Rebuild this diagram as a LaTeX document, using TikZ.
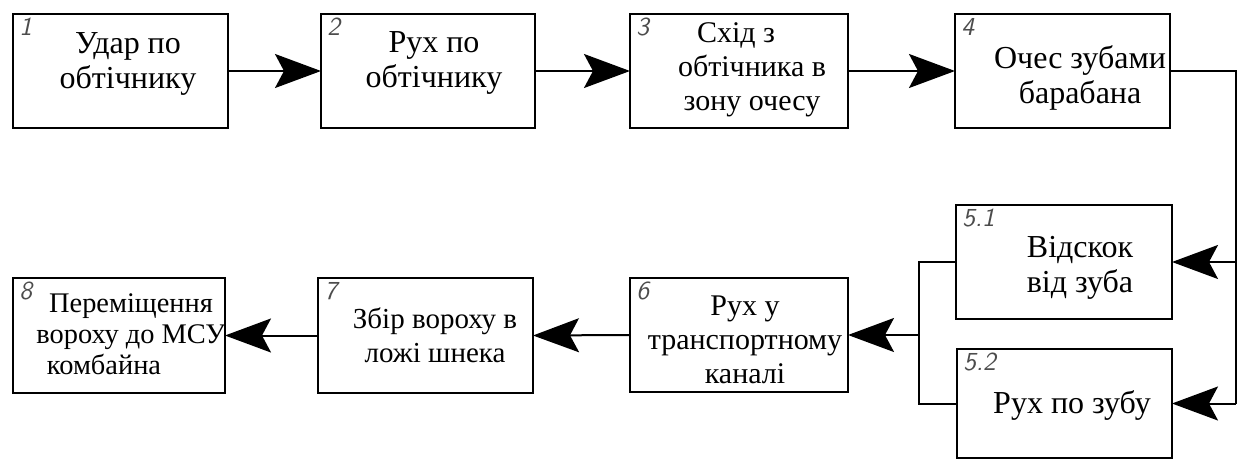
\documentclass[tikz,border=0pt]{standalone}
\usepackage{fontspec}
\setmainfont{Liberation Serif}
\usetikzlibrary{arrows.meta}
\tikzset{
  blk/.style={draw, line width=1.4pt, inner sep=0pt, outer sep=0pt},
  txt/.style={align=center, inner sep=0pt, font=\fontsize{16}{17.5}\selectfont},
  num/.style={anchor=north west, inner sep=0pt, text=black!70, font=\sffamily\itshape\fontsize{13}{13}\selectfont},
  conn/.style={line width=1pt},
  arr/.style={conn, -{Stealth[length=23pt, width=17pt, inset=4.5pt]}}
}
\begin{document}
\begin{tikzpicture}[x=0.5pt, y=-0.5pt]
\useasboundingbox (0,0) rectangle (1243,460);
% boxes
\node[blk, minimum width=107.5pt, minimum height=57pt] (b1) at (120.5,71) {};
\node[blk, minimum width=107pt, minimum height=57pt] (b2) at (428,71) {};
\node[blk, minimum width=109pt, minimum height=57pt] (b3) at (739,71) {};
\node[blk, minimum width=107.5pt, minimum height=57pt] (b4) at (1062.5,71) {};
\node[blk, minimum width=108pt, minimum height=57pt] (b51) at (1064,262) {};
\node[blk, minimum width=107.5pt, minimum height=54.5pt] (b52) at (1064.5,403.5) {};
\node[blk, minimum width=109pt, minimum height=57pt] (b6) at (739,335) {};
\node[blk, minimum width=107.5pt, minimum height=57.5pt] (b7) at (425.5,335.5) {};
\node[blk, minimum width=106pt, minimum height=57.5pt] (b8) at (119,335.5) {};
% numbers
\node[num] (n1) at ([xshift=3pt,yshift=-2pt]b1.north west) {1};
\node[num] (n2) at ([xshift=3pt,yshift=-2pt]b2.north west) {2};
\node[num] (n3) at ([xshift=3pt,yshift=-2pt]b3.north west) {3};
\node[num] (n4) at ([xshift=3pt,yshift=-2pt]b4.north west) {4};
\node[num] (n51) at ([xshift=3pt,yshift=-2pt]b51.north west) {5.1};
\node[num] (n52) at ([xshift=3pt,yshift=-2pt]b52.north west) {5.2};
\node[num] (n6) at ([xshift=3pt,yshift=-2pt]b6.north west) {6};
\node[num] (n7) at ([xshift=3pt,yshift=-2pt]b7.north west) {7};
\node[num] (n8) at ([xshift=3pt,yshift=-2pt]b8.north west) {8};
% texts
\node[txt] (t1) at (128,64) {Удар по\\обтічнику};
\node[txt] (t2) at (434,63) {Рух по\\обтічнику};
\node[txt, font=\fontsize{15}{17}\selectfont] (t3) at (752,70) {Схід з\hspace*{16pt}\\обтічника в\\зону очесу};
\node[txt] (t4) at (1080,78) {Очес зубами\\барабана};
\node[txt] (t51) at (1080,268) {Відскок\\від зуба};
\node[txt] (t52) at (1072,405) {Рух по зубу};
\node[txt, font=\fontsize{15}{17}\selectfont] (t6) at (745,340) {Рух у\\транспортному\\каналі};
\node[txt, font=\fontsize{14.5}{17}\selectfont] (t7) at (435,335) {Збір вороху в\\ложі шнека};
\node[txt, font=\fontsize{14.2}{15.5}\selectfont] (t8) at (131,334) {Переміщення\\вороху до МСУ\\комбайна\hspace*{27pt}};
% connectors
\coordinate (r) at (1236,403.5);
\coordinate (l) at (919,335);
\draw[arr] (b1.east) -- (b2.west);
\draw[arr] (b2.east) -- (b3.west);
\draw[arr] (b3.east) -- (b4.west);
\draw[conn] (b4.east) -| (r);
\draw[arr] (r |- b51.east) -- (b51.east);
\draw[arr] (r) -- (b52.east);
\draw[conn] (b51.west) -| (l) |- (b52.west);
\draw[arr] (l) -- (b6.east);
\draw[arr] (b6.west) -- (b7.east);
\draw[arr] (b7.west) -- (b8.east);
\end{tikzpicture}
\end{document}
